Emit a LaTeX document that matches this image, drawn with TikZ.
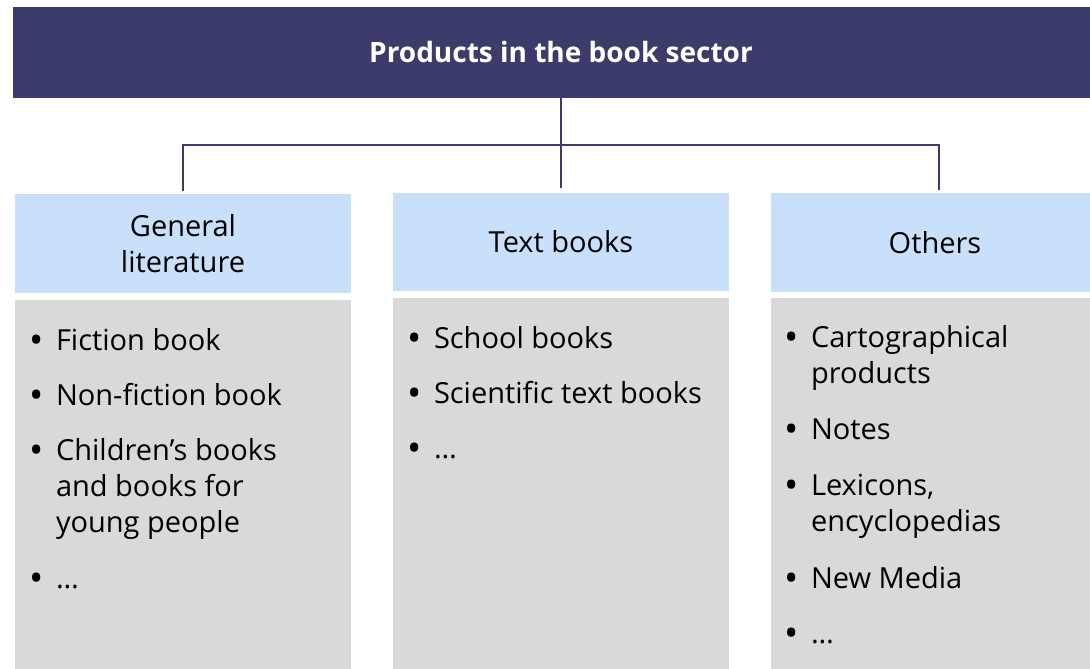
\documentclass[tikz,border=0pt]{standalone}
\usepackage{fontspec}
\setmainfont{Open Sans}
\usetikzlibrary{calc}
\definecolor{navy}{HTML}{3C3C6C}
\definecolor{hblue}{HTML}{C9E0FB}
\definecolor{bgray}{HTML}{D9D9D9}
\begin{document}
\begin{tikzpicture}[x=1pt,y=-1pt,
  every node/.style={inner sep=0pt, outer sep=0pt},
  txt/.style={font=\fontsize{29}{36}\selectfont, text=black},
  titlebar/.style={fill=navy, text=white, font=\fontsize{28}{32}\selectfont\bfseries, anchor=north west, minimum width=1096pt, minimum height=91pt},
  headbox/.style={fill=hblue, txt, align=center, anchor=north west, minimum width=336pt, minimum height=99pt},
  listbox/.style={fill=bgray, anchor=north west, minimum width=336pt, minimum height=380pt},
  item/.style={txt, anchor=base west, align=left},
  conn/.style={draw=navy, line width=1.8pt}]
\useasboundingbox (0,0) rectangle (1090,669);
\clip (0,0) rectangle (1090,669);
\fill[white] (0,0) rectangle (1090,669);
% title
\node[titlebar] (title) at (13,7) {Products in the book sector};
% header boxes
\node[headbox] (hb1) at (15,194) {General\\literature};
\node[headbox, minimum height=98pt] (hb2) at (393,193) {Text books};
\node[headbox] (hb3) at (771,193) {\hspace*{-8pt}Others};
% list boxes
\node[listbox] (lb1) at (15,299.5) {};
\node[listbox] (lb2) at (393,297.5) {};
\node[listbox] (lb3) at (771,297.5) {};
% connectors
\coordinate (bus) at (561,145);
\draw[conn] (title.south -| hb2.north) -- ([yshift=5.5pt]hb2.north);
\draw[conn] ([yshift=3pt]hb1.north) -- (hb1.north |- bus) -- (hb3.north |- bus) -- ([yshift=3pt]hb3.north);
% items box 1
\newcommand{\bul}{\llap{\raisebox{-3pt}{\fontsize{38}{38}\selectfont •}\hspace{12pt}}}
\node[item] (i11) at (56,350) {\bul Fiction book};
\node[item] (i12) at (56,405) {\bul Non-fiction book};
\node[item] (i13) at (56,460) {\bul\begin{tabular}[t]{@{}l@{}}Children’s books\\and books for\\young people\end{tabular}};
\node[item] (i14) at (56,588) {\bul …};
% items box 2
\node[item] (i21) at (434,348) {\bul School books};
\node[item] (i22) at (434,403) {\bul Scientific text books};
\node[item] (i23) at (434,458) {\bul …};
% items box 3
\node[item] (i31) at (811,347) {\bul\begin{tabular}[t]{@{}l@{}}Cartographical\\products\end{tabular}};
\node[item] (i32) at (811,439) {\bul Notes};
\node[item] (i33) at (811,495) {\bul\begin{tabular}[t]{@{}l@{}}Lexicons,\\encyclopedias\end{tabular}};
\node[item] (i34) at (811,588) {\bul New Media};
\node[item] (i35) at (811,643) {\bul …};
\end{tikzpicture}
\end{document}
